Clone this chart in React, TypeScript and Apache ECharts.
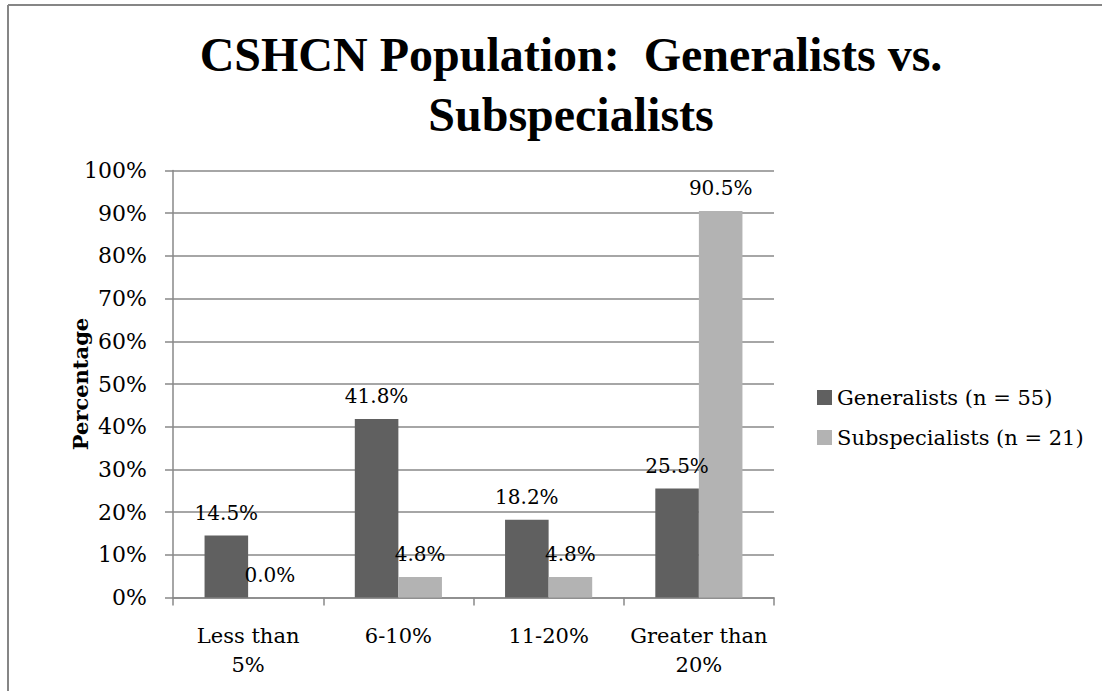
import React, { useEffect, useRef } from "react";
import * as echarts from "echarts";

const categories = ["Less than\n5%", "6-10%", "11-20%", "Greater than\n20%"];
const generalists = [14.5, 41.8, 18.2, 25.5];
const subspecialists = [0.0, 4.8, 4.8, 90.5];
const seriesNames = ["Generalists (n = 55)", "Subspecialists (n = 21)"];
const titleText = "CSHCN Population:  Generalists vs.\nSubspecialists";
const yAxisName = "Percentage";

const SERIF = "'DejaVu Serif', serif";
const TITLE_FONT = "'Liberation Serif', serif";
const GRID_COLOR = "#888888";

export default function App() {
  const ref = useRef<HTMLDivElement>(null);
  useEffect(() => {
    document.body.style.margin = "0";
    if (!ref.current) return;
    const chart = echarts.init(ref.current, null, { renderer: "svg" });
    const label = {
      show: true,
      position: "top",
      distance: 13,
      color: "#000",
      fontFamily: SERIF,
      fontSize: 20,
      formatter: (p: any) => Number(p.value).toFixed(1) + "%",
    };
    chart.setOption({
      animation: false,
      backgroundColor: "#fff",
      title: {
        text: titleText,
        left: 566,
        top: 19,
        textAlign: "center",
        textStyle: {
          fontFamily: TITLE_FONT,
          fontWeight: "bold",
          fontSize: 48,
          lineHeight: 60,
          color: "#000",
        },
      },
      graphic: [
        {
          type: "line",
          shape: { x1: 8, y1: 5, x2: 1102, y2: 5 },
          style: { stroke: "#868686", lineWidth: 2 },
        },
        {
          type: "line",
          shape: { x1: 8, y1: 5, x2: 8, y2: 691 },
          style: { stroke: "#868686", lineWidth: 2 },
        },
      ],
      legend: {
        orient: "vertical",
        left: 812,
        top: 380,
        itemWidth: 15,
        itemHeight: 15,
        itemGap: 15,
        icon: "rect",
        textStyle: { fontFamily: SERIF, fontSize: 21, lineHeight: 25, color: "#000" },
        data: seriesNames,
      },
      grid: { left: 173, right: 337, top: 170.5, bottom: 93.5, containLabel: false },
      xAxis: {
        type: "category",
        data: categories,
        axisLine: { lineStyle: { color: GRID_COLOR, width: 1.5 } },
        axisTick: { show: true, length: 8, lineStyle: { color: GRID_COLOR, width: 1.5 } },
        axisLabel: {
          fontFamily: SERIF,
          fontSize: 21,
          lineHeight: 29,
          color: "#000",
          margin: 24,
          interval: 0,
        },
      },
      yAxis: {
        type: "value",
        min: 0,
        max: 100,
        interval: 10,
        name: yAxisName,
        nameLocation: "middle",
        nameRotate: 90,
        nameGap: 82,
        nameMoveOverlap: false,
        nameTextStyle: { fontFamily: SERIF, fontWeight: "bold", fontSize: 21, color: "#000" },
        axisLine: { show: true, lineStyle: { color: GRID_COLOR, width: 1.5 } },
        axisTick: { show: true, length: 8, lineStyle: { color: GRID_COLOR, width: 1.5 } },
        splitLine: { show: true, lineStyle: { color: GRID_COLOR, width: 1.5 } },
        axisLabel: {
          fontFamily: SERIF,
          fontSize: 22,
          color: "#000",
          margin: 26,
          formatter: (v: number) => v + "%",
        },
      },
      series: [
        {
          name: seriesNames[0],
          type: "bar",
          data: generalists,
          barGap: "0%",
          barCategoryGap: "42%",
          itemStyle: { color: "#606060" },
          label,
        },
        {
          name: seriesNames[1],
          type: "bar",
          data: subspecialists,
          itemStyle: { color: "#b3b3b3" },
          label,
        },
      ],
    });
    return () => chart.dispose();
  }, []);
  return <div ref={ref} style={{ width: 1111, height: 691 }} />;
}
